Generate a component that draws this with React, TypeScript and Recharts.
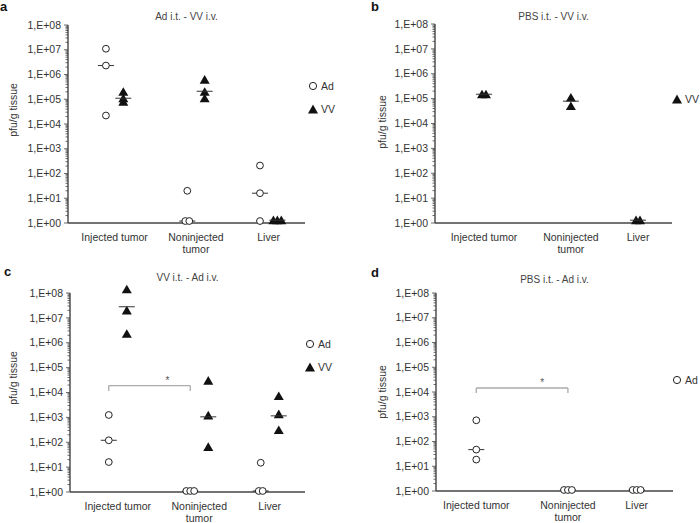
import {
    ScatterChart,
    Scatter,
    XAxis,
    YAxis,
    ReferenceLine,
    ReferenceDot,
    Legend,
    Label,
} from 'recharts';

const FONT = '"Liberation Sans", Arial, Helvetica, sans-serif';
const TXT = '#333';
const AXIS = '#444';

// categories (x axis)
const categoryLines = [['Injected tumor'], ['Noninjected', 'tumor'], ['Liver']];

// y ticks: log decades 1,E+00 .. 1,E+08 plus minor ticks
const decades = [0, 1, 2, 3, 4, 5, 6, 7, 8];
const yTicks: number[] = [];
decades.forEach((k) => {
    if (k === 8) {
        yTicks.push(1e8);
        return;
    }
    for (let m = 1; m <= 9; m++) yTicks.push(m * Math.pow(10, k));
});
const Y_TOP = Math.pow(10, 8.4);

// a: Ad i.t. - VV i.v.   (values per category: injected, noninjected, liver)
const aAd = [[1.1e7, 2.3e6, 2.2e4], [20, 1.2, 1.2], [210, 16, 1.2]];
const aAdMed = [2.3e6, 1.2, 16];
const aVV = [[2e5, 1.1e5, 8e4], [6.2e5, 2e5, 1.1e5], [1.3, 1.3, 1.3]];
const aVVMed = [1.1e5, 2.1e5, 1.3];

// b: PBS i.t. - VV i.v.
const bVV = [[1.5e5, 1.5e5], [1.1e5, 5e4], [1.3, 1.3]];
const bVVMed = [1.5e5, 7.9e4, 1.3];

// c: VV i.t. - Ad i.v.
const cAd = [[1.25e3, 120, 16], [1.1, 1.1, 1.1], [15, 1.1, 1.1]];
const cAdMed = [120, 1.1, 1.1];
const cVV = [[1.4e8, 2e7, 2.3e6], [3e4, 1.2e3, 65], [7.2e3, 1.35e3, 310]];
const cVVMed = [2.8e7, 1.05e3, 1.15e3];
const cBracket = { top: 1.9e4, foot: 1.15e4, star: 3.8e4 };

// d: PBS i.t. - Ad i.v.
const dAd = [[720, 47, 18.6], [1.1, 1.1, 1.1], [1.1, 1.1, 1.1]];
const dAdMed = [47, 1.1, 1.1];
const dBracket = { top: 1.45e4, foot: 9.1e3, star: 2.8e4 };

type Bracket = { top: number; foot: number; star: number };

type Cfg = {
    letter: string;
    title: string;
    left: number;
    top: number;
    w: number;
    h: number;
    pl: number;
    pt: number;
    pr: number;
    pb: number;
    cats: number[];
    adOff: number;
    vvOff: number;
    ad?: number[][];
    adMed?: number[];
    vv?: number[][];
    vvMed?: number[];
    bracket?: Bracket;
    legend: string[];
    legX: number;
    legY: number;
    yTitleX: number;
    yTitleY: number;
    letterX: number;
    letterY: number;
    titleY: number;
};

const panels: Cfg[] = [
    {
        letter: 'a', title: 'Ad i.t. - VV i.v.',
        left: 0, top: 0, w: 350, h: 260, pl: 68, pt: 25, pr: 305, pb: 223,
        cats: [0.59, 1.62, 2.54], adOff: -0.11, vvOff: 0.11,
        ad: aAd, adMed: aAdMed, vv: aVV, vvMed: aVVMed,
        legend: ['Ad', 'VV'], legX: 307, legY: 74,
        yTitleX: 13, yTitleY: 110, letterX: 0, letterY: 0, titleY: 17,
    },
    {
        letter: 'b', title: 'PBS i.t. - VV i.v.',
        left: 350, top: 0, w: 350, h: 260, pl: 85, pt: 24, pr: 322, pb: 223,
        cats: [0.62, 1.72, 2.57], adOff: 0, vvOff: 0,
        vv: bVV, vvMed: bVVMed,
        legend: ['VV'], legX: 321, legY: 87,
        yTitleX: 32, yTitleY: 122, letterX: 371, letterY: 0, titleY: 17,
    },
    {
        letter: 'c', title: 'VV i.t. - Ad i.v.',
        left: 0, top: 260, w: 350, h: 263, pl: 70, pt: 33, pr: 305, pb: 232,
        cats: [0.61, 1.65, 2.55], adOff: -0.115, vvOff: 0.115,
        ad: cAd, adMed: cAdMed, vv: cVV, vvMed: cVVMed, bracket: cBracket,
        legend: ['Ad', 'VV'], legX: 304, legY: 72,
        yTitleX: 13, yTitleY: 118, letterX: 4, letterY: 265, titleY: 278,
    },
    {
        letter: 'd', title: 'PBS i.t. - Ad i.v.',
        left: 350, top: 260, w: 350, h: 263, pl: 86, pt: 33, pr: 323, pb: 231,
        cats: [0.51, 1.67, 2.54], adOff: 0, vvOff: 0,
        ad: dAd, adMed: dAdMed, bracket: dBracket,
        legend: ['Ad'], legX: 321, legY: 108,
        yTitleX: 32, yTitleY: 132, letterX: 371, letterY: 266, titleY: 280,
    },
];

const JIT = 0.05;

function toPoints(groups: number[][], cats: number[], off: number) {
    const out: { x: number; y: number }[] = [];
    groups.forEach((g, ci) => {
        g.forEach((v, i) => {
            const same = g.filter((u) => u === v).length;
            const rank = g.slice(0, i).filter((u) => u === v).length;
            out.push({ x: cats[ci] + off + (rank - (same - 1) / 2) * JIT, y: v });
        });
    });
    return out;
}

function toMedians(meds: number[], cats: number[], off: number) {
    return meds.map((m, ci) => ({ x: cats[ci] + off, y: m }));
}

const circleShape = (p: any) => (
    <circle cx={p.cx} cy={p.cy} r={3.4} fill="#fff" stroke="#222" strokeWidth={1} />
);
const triShape = (p: any) => (
    <path d={`M${p.cx},${p.cy - 4.6} L${p.cx + 5},${p.cy + 4} L${p.cx - 5},${p.cy + 4} Z`} fill="#111" />
);
const medShape = (p: any) => (
    <line x1={p.cx - 8} x2={p.cx + 8} y1={p.cy} y2={p.cy} stroke="#333" strokeWidth={1} />
);

const LegendBox = ({ items }: { items: string[] }) => (
    <div style={{ fontFamily: FONT, fontSize: 10.5, color: TXT, whiteSpace: 'nowrap' }}>
        {items.map((it) => (
            <div key={it} style={{ display: 'flex', alignItems: 'center', height: 23 }}>
                <svg width={12} height={12}>
                    {it === 'Ad' ? (
                        <circle cx={6} cy={6} r={3.6} fill="#fff" stroke="#222" strokeWidth={1} />
                    ) : (
                        <path d="M6,1.5 L11,10.5 L1,10.5 Z" fill="#111" />
                    )}
                </svg>
                <span style={{ marginLeft: 2 }}>{it}</span>
            </div>
        ))}
    </div>
);

function Panel({ cfg }: { cfg: Cfg }) {
    const decade = (cfg.pb - cfg.pt) / 8;
    const plotTop = cfg.pt - 0.4 * decade;
    const xAxisH = 30;
    const yAxisW = 60;
    const margin = {
        top: plotTop,
        right: cfg.w - cfg.pr,
        bottom: cfg.h - cfg.pb - xAxisH,
        left: cfg.pl - yAxisW,
    };
    const adPts = cfg.ad ? toPoints(cfg.ad, cfg.cats, cfg.adOff) : [];
    const vvPts = cfg.vv ? toPoints(cfg.vv, cfg.cats, cfg.vvOff) : [];
    const adMed = cfg.adMed ? toMedians(cfg.adMed, cfg.cats, cfg.adOff) : [];
    const vvMed = cfg.vvMed ? toMedians(cfg.vvMed, cfg.cats, cfg.vvOff) : [];
    const br = cfg.bracket;
    const bx1 = cfg.cats[0] + cfg.adOff;
    const bx2 = cfg.cats[1] + cfg.adOff;

    return (
        <div style={{ position: 'absolute', left: cfg.left, top: cfg.top }}>
            <ScatterChart width={cfg.w} height={cfg.h} margin={margin}>
                <XAxis
                    type="number"
                    dataKey="x"
                    domain={[0, 3]}
                    ticks={cfg.cats}
                    interval={0}
                    tickLine={false}
                    axisLine={{ stroke: AXIS, strokeWidth: 1.4 }}
                    height={xAxisH}
                    tick={(p: any) => (
                        <text
                            x={p.x}
                            y={cfg.pb + 18}
                            textAnchor="middle"
                            fontSize={10.5}
                            fill={TXT}
                            fontFamily={FONT}
                        >
                            {categoryLines[p.index].map((ln, i) => (
                                <tspan key={i} x={p.x} dy={i === 0 ? 0 : 11.5}>
                                    {ln}
                                </tspan>
                            ))}
                        </text>
                    )}
                />
                <YAxis
                    type="number"
                    dataKey="y"
                    scale="log"
                    domain={[1, Y_TOP]}
                    ticks={yTicks}
                    interval={0}
                    tickLine={false}
                    axisLine={false}
                    width={yAxisW}
                    tick={(p: any) => {
                        const v = p.payload.value;
                        const lg = Math.log10(v);
                        const major = Math.abs(lg - Math.round(lg)) < 1e-6;
                        return (
                            <g>
                                <line
                                    x1={cfg.pl - (major ? 4 : 2.5)}
                                    x2={cfg.pl}
                                    y1={p.y}
                                    y2={p.y}
                                    stroke={AXIS}
                                    strokeWidth={0.8}
                                />
                                {major && (
                                    <text
                                        x={cfg.pl - 7}
                                        y={p.y}
                                        dy="0.35em"
                                        textAnchor="end"
                                        fontSize={10.5}
                                        fill={TXT}
                                        fontFamily={FONT}
                                    >
                                        {`1,E+${String(Math.round(lg)).padStart(2, '0')}`}
                                    </text>
                                )}
                            </g>
                        );
                    }}
                >
                    <Label
                        content={() => (
                            <text
                                transform={`translate(${cfg.yTitleX},${cfg.yTitleY}) rotate(-90)`}
                                textAnchor="middle"
                                dy="0.35em"
                                fontSize={10.5}
                                fill={TXT}
                                fontFamily={FONT}
                            >
                                pfu/g tissue
                            </text>
                        )}
                    />
                </YAxis>
                <ReferenceLine
                    segment={[{ x: 0, y: 1 }, { x: 0, y: 1e8 }]}
                    stroke={AXIS}
                    strokeWidth={1.4}
                />
                {br && (
                    <ReferenceLine
                        segment={[{ x: bx1, y: br.top }, { x: bx2, y: br.top }]}
                        stroke="#aaa"
                        strokeWidth={1.3}
                    />
                )}
                {br && (
                    <ReferenceLine
                        segment={[{ x: bx1, y: br.top }, { x: bx1, y: br.foot }]}
                        stroke="#aaa"
                        strokeWidth={1.3}
                    />
                )}
                {br && (
                    <ReferenceLine
                        segment={[{ x: bx2, y: br.top }, { x: bx2, y: br.foot }]}
                        stroke="#aaa"
                        strokeWidth={1.3}
                    />
                )}
                {br && (
                    <ReferenceDot
                        x={bx1 + 0.72 * (bx2 - bx1)}
                        y={br.star}
                        r={0}
                        shape={(p: any) => (
                            <text
                                x={p.cx}
                                y={p.cy + 5.5}
                                textAnchor="middle"
                                fontSize={10}
                                fill="#555"
                                fontFamily={FONT}
                            >
                                *
                            </text>
                        )}
                    />
                )}
                {adMed.length > 0 && (
                    <Scatter data={adMed} shape={medShape} isAnimationActive={false} />
                )}
                {adPts.length > 0 && (
                    <Scatter data={adPts} shape={circleShape} isAnimationActive={false} />
                )}
                {vvPts.length > 0 && (
                    <Scatter data={vvPts} shape={triShape} isAnimationActive={false} />
                )}
                {vvMed.length > 0 && (
                    <Scatter data={vvMed} shape={medShape} isAnimationActive={false} />
                )}
                <Legend
                    layout="horizontal"
                    align="center"
                    verticalAlign="middle"
                    wrapperStyle={{ left: cfg.legX, top: cfg.legY, width: 40 }}
                    content={() => <LegendBox items={cfg.legend} />}
                />
            </ScatterChart>
        </div>
    );
}

export default function App() {
    return (
        <div
            style={{
                position: 'absolute',
                left: 0,
                top: 0,
                width: 700,
                height: 523,
                background: '#fff',
                fontFamily: FONT,
            }}
        >
            {panels.map((cfg) => (
                <Panel key={cfg.letter} cfg={cfg} />
            ))}
            {panels.map((cfg) => (
                <div key={'t' + cfg.letter}>
                    <div
                        style={{
                            position: 'absolute',
                            left: cfg.letterX,
                            top: cfg.letterY,
                            fontSize: 13,
                            lineHeight: '13px',
                            fontWeight: 'bold',
                            color: '#111',
                        }}
                    >
                        {cfg.letter}
                    </div>
                    <div
                        style={{
                            position: 'absolute',
                            left: cfg.left + cfg.pl,
                            width: cfg.pr - cfg.pl,
                            top: cfg.top + cfg.titleY - (cfg.top > 0 ? 260 : 0) - 6,
                            textAlign: 'center',
                            fontSize: 10,
                            lineHeight: '12px',
                            color: '#444',
                        }}
                    >
                        {cfg.title}
                    </div>
                </div>
            ))}
        </div>
    );
}
